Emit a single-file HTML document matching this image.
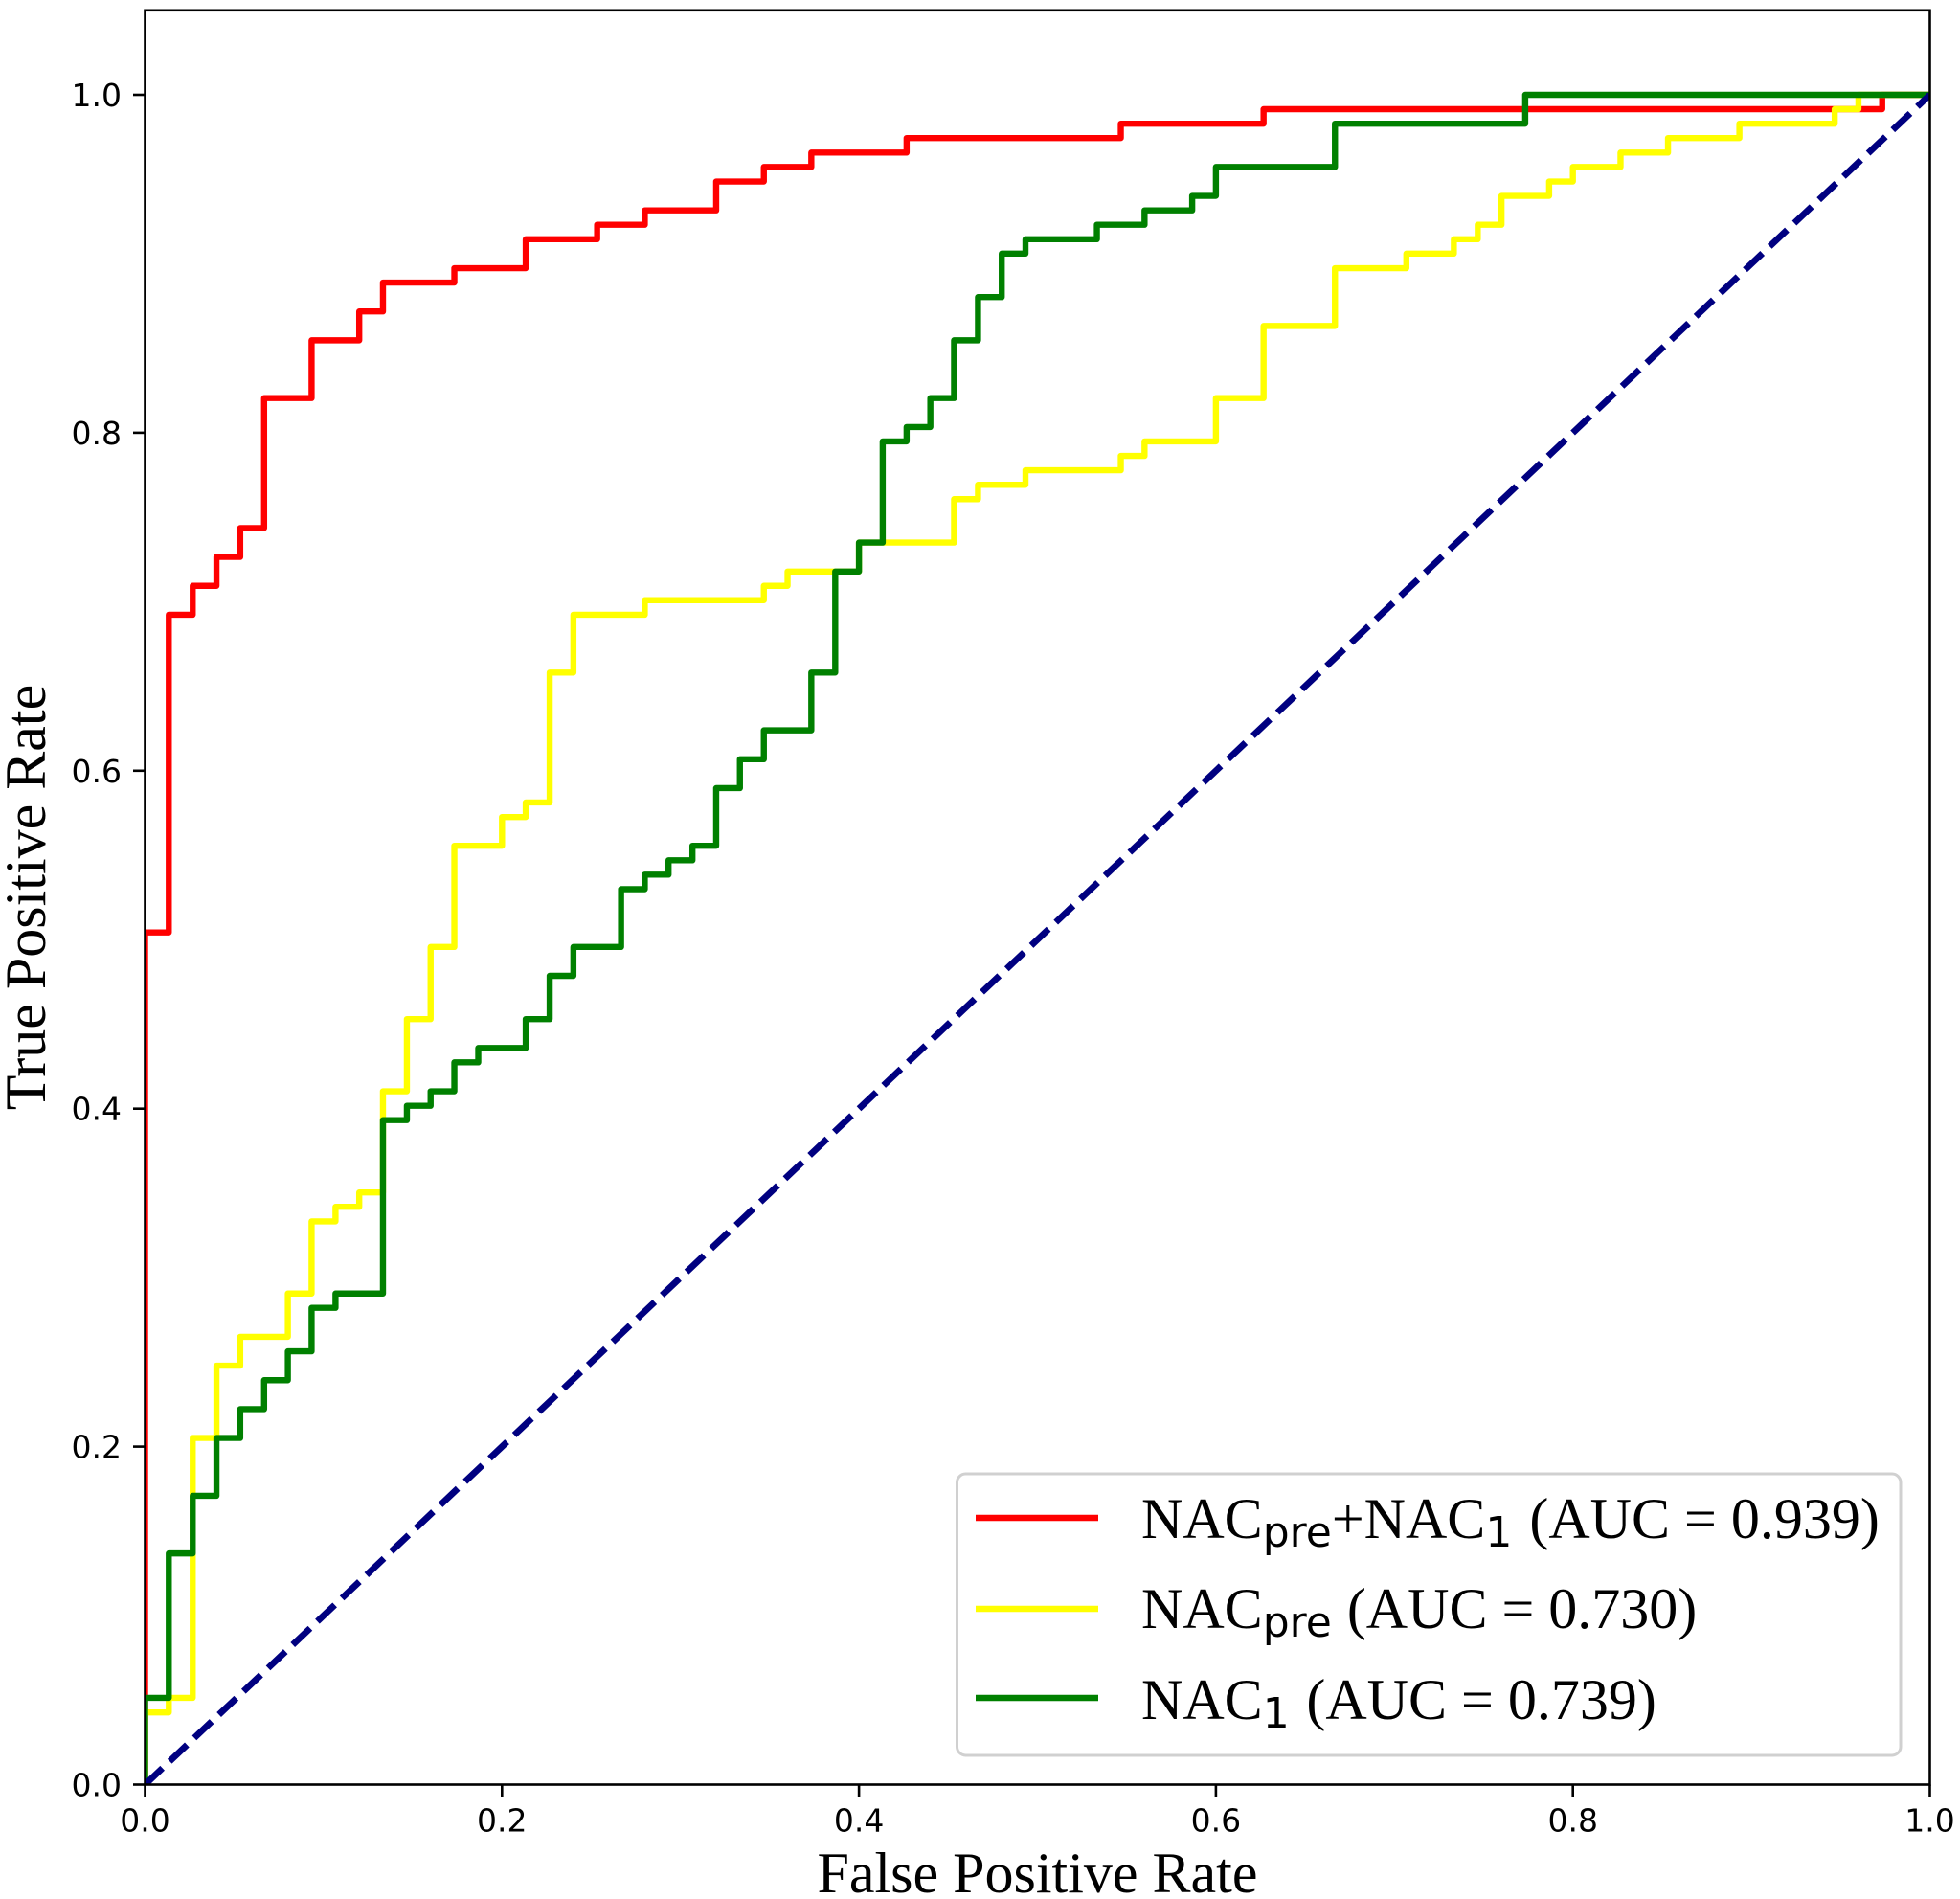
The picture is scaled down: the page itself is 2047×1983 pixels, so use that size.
<!DOCTYPE html>
<html lang="en">
<head>
<meta charset="utf-8">
<title>ROC curves</title>
<style>
html,body{margin:0;padding:0;background:#fff;}
svg{display:block;}
.tick-label{font-family:"DejaVu Sans",sans-serif;font-size:33px;fill:#000;}
.serif{font-family:"Liberation Serif",serif;font-size:60px;fill:#000;}
.sub{font-family:"DejaVu Sans",sans-serif;font-size:44px;}
</style>
</head>
<body>
<svg id="chart" xmlns="http://www.w3.org/2000/svg" width="2047" height="1983" viewBox="0 0 2047 1983">
  <rect x="0" y="0" width="2047" height="1983" fill="#fff"/>
  <defs>
    <clipPath id="plot-clip"><rect x="151.5" y="10.8" width="1864" height="1852.7"/></clipPath>
  </defs>
  <g id="series-layer" clip-path="url(#plot-clip)"></g>
  <g id="axes-layer"></g>
  <text class="serif" x="1083.5" y="1976" text-anchor="middle">False Positive Rate</text>
  <text class="serif" transform="translate(47,937) rotate(-90)" text-anchor="middle">True Positive Rate</text>
  <g>
    <rect x="999.5" y="1539" width="985.5" height="294" rx="9" ry="9" fill="#fff" stroke="#d0d0d0" stroke-width="3"/>
    <line x1="1019" x2="1147" y1="1585" y2="1585" stroke="#ff0000" stroke-width="6.4"/>
    <text class="serif" x="1192" y="1606">NAC<tspan class="sub" dy="9">pre</tspan><tspan dy="-9">+NAC</tspan><tspan class="sub" dy="9">1</tspan><tspan dy="-9" dx="3"> (AUC = 0.939)</tspan></text>
    <line x1="1019" x2="1147" y1="1680" y2="1680" stroke="#ffff00" stroke-width="6.4"/>
    <text class="serif" x="1192" y="1700">NAC<tspan class="sub" dy="9">pre</tspan><tspan dy="-9" dx="1"> (AUC = 0.730)</tspan></text>
    <line x1="1019" x2="1147" y1="1773" y2="1773" stroke="#008000" stroke-width="6.4"/>
    <text class="serif" x="1192" y="1795">NAC<tspan class="sub" dy="9">1</tspan><tspan dy="-9" dx="2.7"> (AUC = 0.739)</tspan></text>
  </g>
</svg>
<script>
// Tick labels
const xTickLabels = ["0.0", "0.2", "0.4", "0.6", "0.8", "1.0"];
const yTickLabels = ["0.0", "0.2", "0.4", "0.6", "0.8", "1.0"];

// NACpre+NAC1 curve: at each FPR the TPR rises to the paired value
const combinedFpr = [0, .0133, .0267, .04, .0533, .0667, .0933, .12, .1333, .1733, .2133, .2533, .28, .32, .3467, .3733, .4267, .5467, .6267, .9733];
const combinedTpr = [.5043, .6923, .7094, .7265, .7436, .8205, .8547, .8718, .8889, .8974, .9145, .9231, .9316, .9487, .9573, .9658, .9744, .9829, .9915, 1];

// NACpre curve
const preFpr = [0, .0133, .0267, .04, .0533, .08, .0933, .1067, .12, .1333, .1467, .16, .1733, .2, .2133, .2267, .24, .28, .3467, .36, .4, .4533, .4667, .4933, .5467, .56, .6, .6267, .6667, .7067, .7333, .7467, .76, .7867, .8, .8267, .8533, .8933, .9467, .96];
const preTpr = [.0427, .0513, .2051, .2479, .265, .2906, .3333, .3419, .3504, .4103, .453, .4957, .5556, .5726, .5812, .6581, .6923, .7009, .7094, .7179, .735, .7607, .7692, .7778, .7863, .7949, .8205, .8632, .8974, .906, .9145, .9231, .9402, .9487, .9573, .9658, .9744, .9829, .9915, 1];

// NAC1 curve
const oneFpr = [0, .0133, .0267, .04, .0533, .0667, .08, .0933, .1067, .1333, .1467, .16, .1733, .1867, .2133, .2267, .24, .2667, .28, .2933, .3067, .32, .3333, .3467, .3733, .3867, .4, .4133, .4267, .44, .4533, .4667, .48, .4933, .5333, .56, .5867, .6, .6667, .7733];
const oneTpr = [.0513, .1368, .1709, .2051, .2222, .2393, .2564, .2821, .2906, .3932, .4017, .4103, .4274, .4359, .453, .4786, .4957, .5299, .5385, .547, .5556, .5897, .6068, .6239, .6581, .7179, .735, .7949, .8034, .8205, .8547, .8803, .906, .9145, .9231, .9316, .9402, .9573, .9829, 1];

// Chance diagonal
const chanceFpr = [0, 1];
const chanceTpr = [0, 1];

const NS = "http://www.w3.org/2000/svg";
const plotLeft = 151.5, plotRight = 2015.5, yZero = 1863.5, yOne = 99, yMaxValue = 1.05;
const xScale = v => plotLeft + v * (plotRight - plotLeft);
const yScale = v => yZero - v * (yZero - yOne);

const seriesLayer = document.getElementById("series-layer");
const axesLayer = document.getElementById("axes-layer");

function stepPath(fpr, tpr) {
  let d = "M" + xScale(0) + " " + yScale(0);
  for (let i = 0; i < fpr.length; i++) {
    d += "H" + xScale(fpr[i]).toFixed(2) + "V" + yScale(tpr[i]).toFixed(2);
  }
  d += "H" + xScale(1);
  return d;
}

function addCurve(fpr, tpr, color, name) {
  const p = document.createElementNS(NS, "path");
  p.setAttribute("d", stepPath(fpr, tpr));
  p.setAttribute("fill", "none");
  p.setAttribute("stroke", color);
  p.setAttribute("stroke-width", "6.4");
  p.setAttribute("stroke-linejoin", "round");
  
  
  seriesLayer.appendChild(p);
}

addCurve(combinedFpr, combinedTpr, "#ff0000", "curve-nacpre-plus-nac1");
addCurve(preFpr, preTpr, "#ffff00", "curve-nacpre");
addCurve(oneFpr, oneTpr, "#008000", "curve-nac1");

const chance = document.createElementNS(NS, "line");
chance.setAttribute("x1", xScale(chanceFpr[0]));
chance.setAttribute("y1", yScale(chanceTpr[0]));
chance.setAttribute("x2", xScale(chanceFpr[1]));
chance.setAttribute("y2", yScale(chanceTpr[1]));
chance.setAttribute("stroke", "#000080");
chance.setAttribute("stroke-width", "6.8");
chance.setAttribute("stroke-dasharray", "25 10.4");


seriesLayer.appendChild(chance);

const frame = document.createElementNS(NS, "rect");
frame.setAttribute("x", plotLeft);
frame.setAttribute("y", yScale(yMaxValue));
frame.setAttribute("width", plotRight - plotLeft);
frame.setAttribute("height", yZero - yScale(yMaxValue));
frame.setAttribute("fill", "none");
frame.setAttribute("stroke", "#000");
frame.setAttribute("stroke-width", "2.6");


axesLayer.appendChild(frame);

xTickLabels.forEach(label => {
  const x = xScale(parseFloat(label));
  const tick = document.createElementNS(NS, "line");
  tick.setAttribute("x1", x);
  tick.setAttribute("x2", x);
  tick.setAttribute("y1", yZero);
  tick.setAttribute("y2", yZero + 12.5);
  tick.setAttribute("stroke", "#000");
  tick.setAttribute("stroke-width", "2.6");
  
  
  axesLayer.appendChild(tick);
  const text = document.createElementNS(NS, "text");
  text.setAttribute("x", x);
  text.setAttribute("y", yZero + 49);
  text.setAttribute("text-anchor", "middle");
  text.setAttribute("class", "tick-label");
  
  
  text.textContent = label;
  axesLayer.appendChild(text);
});

yTickLabels.forEach(label => {
  const y = yScale(parseFloat(label));
  const tick = document.createElementNS(NS, "line");
  tick.setAttribute("x1", plotLeft - 12.5);
  tick.setAttribute("x2", plotLeft);
  tick.setAttribute("y1", y);
  tick.setAttribute("y2", y);
  tick.setAttribute("stroke", "#000");
  tick.setAttribute("stroke-width", "2.6");
  
  
  axesLayer.appendChild(tick);
  const text = document.createElementNS(NS, "text");
  text.setAttribute("x", plotLeft - 24.5);
  text.setAttribute("y", y + 12);
  text.setAttribute("text-anchor", "end");
  text.setAttribute("class", "tick-label");
  
  
  text.textContent = label;
  axesLayer.appendChild(text);
});
</script>
</body>
</html>
